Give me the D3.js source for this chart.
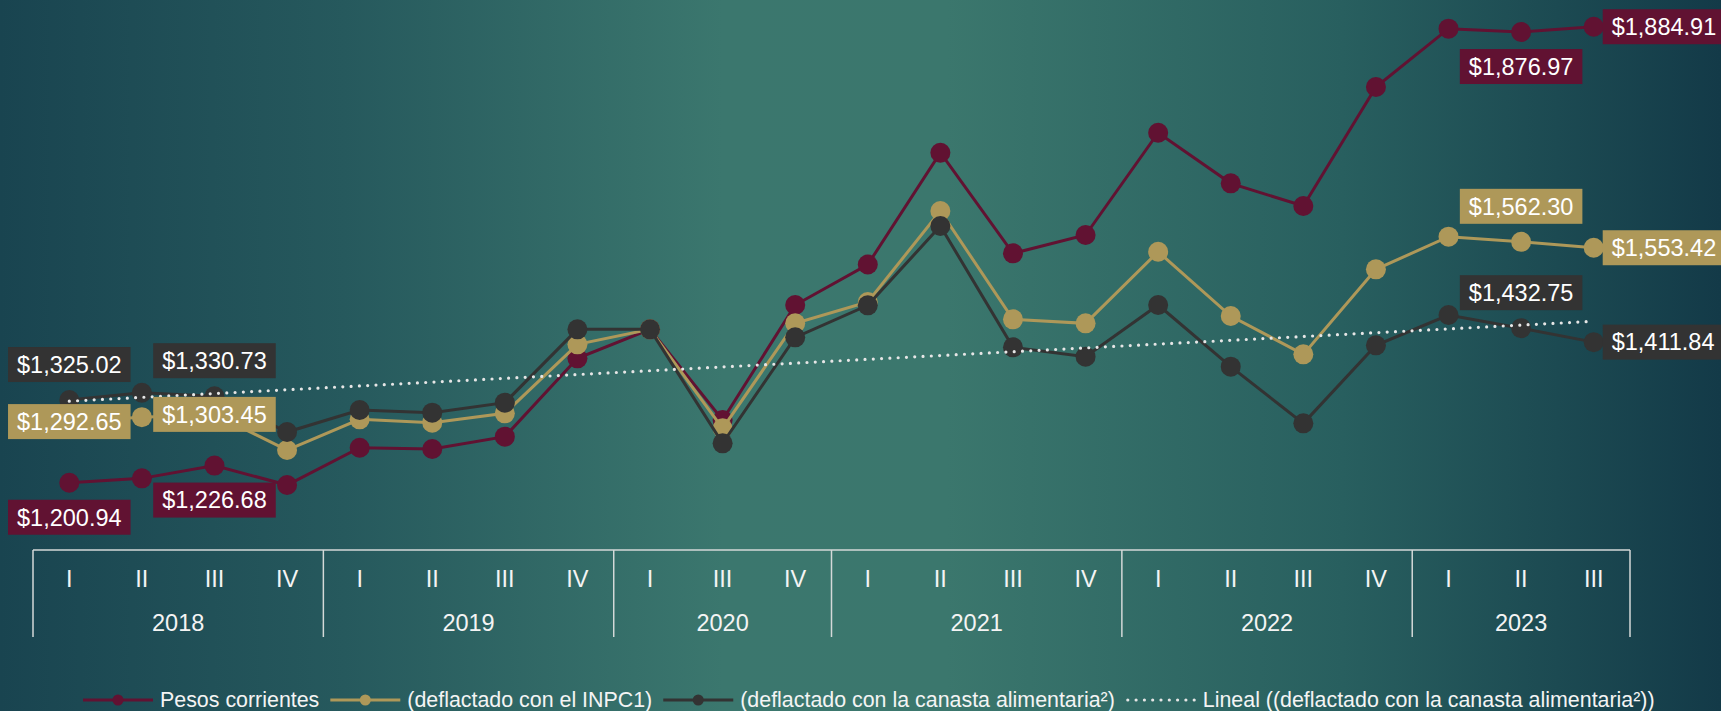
<!DOCTYPE html>
<html>
<head>
<meta charset="utf-8">
<script src="https://cdn.jsdelivr.net/npm/d3@7"></script>
<style>
  body { margin: 0; overflow: hidden; }
  text { font-family: "Liberation Sans", Arial, sans-serif; }
</style>
</head>
<body>
<script>
'use-strict';

// categories (quarter / year)
let quarters = ["I", "II", "III", "IV", "I", "II", "III", "IV", "I", "III", "IV",
  "I", "II", "III", "IV", "I", "II", "III", "IV", "I", "II", "III"];
let years = ["2018", "2018", "2018", "2018", "2019", "2019", "2019", "2019", "2020", "2020", "2020",
  "2021", "2021", "2021", "2021", "2022", "2022", "2022", "2022", "2023", "2023", "2023"];

// series values
let pesosCorrientes = [1200.94, 1207.5, 1226.68, 1197.5, 1253.4, 1251.5, 1270.0, 1387.5, 1431.0, 1295.0, 1467.5,
  1528.2, 1695.9, 1545.0, 1572.5, 1725.9, 1650.0, 1616.0, 1794.5, 1882.0, 1876.97, 1884.91];
let deflactadoInpc = [1292.65, 1299.3, 1303.45, 1250.0, 1296.0, 1291.0, 1305.0, 1408.5, 1431.0, 1282.5, 1440.0,
  1472.0, 1608.5, 1446.0, 1440.0, 1547.4, 1451.0, 1393.5, 1521.0, 1570.0, 1562.30, 1553.42];
let deflactadoCanasta = [1325.02, 1335.9, 1330.73, 1277.0, 1310.0, 1306.0, 1321.0, 1431.0, 1431.0, 1260.0, 1419.0,
  1467.0, 1586.0, 1404.0, 1390.0, 1467.5, 1375.0, 1290.0, 1407.0, 1452.5, 1432.75, 1411.84];

// legend texts
let legendNames = ["Pesos corrientes", "(deflactado con el INPC1)",
  "(deflactado con la canasta alimentaria²)", "Lineal ((deflactado con la canasta alimentaria²))"];

// which points carry a value label, and where
let labeledPoints = [0, 2, 20, 21];
let pesosLabelPos = ["below", "below", "below", "right"];
let inpcLabelPos = ["center", "center", "above", "right"];
let canastaLabelPos = ["above", "above", "above", "right"];

let width = 1721, height = 711;
let colors = { pesos: "#611232", inpc: "#ae9859", canasta: "#333333" };

let svg = d3.select("body").append("svg")
  .attr("width", width)
  .attr("height", height);

let keys = quarters.map((q, i) => years[i] + "-" + q);

let x = d3.scaleBand()
  .domain(keys)
  .range([33, 1630]);

let y = d3.scaleLinear()
  .domain([1000, 2000])
  .range([616.7, -50]);

drawBackground();
drawAxis();
drawSeries(pesosCorrientes, colors.pesos);
drawSeries(deflactadoInpc, colors.inpc);
drawSeries(deflactadoCanasta, colors.canasta);
drawTrend(deflactadoCanasta);
drawLabels(pesosCorrientes, pesosLabelPos, colors.pesos);
drawLabels(deflactadoInpc, inpcLabelPos, colors.inpc);
drawLabels(deflactadoCanasta, canastaLabelPos, colors.canasta);
drawLegend();

function cx(i) {
  return x(keys[i]) + x.bandwidth() / 2;
}

// teal background gradient
function drawBackground() {
  let grad = svg.append("defs").append("linearGradient")
    .attr("id", "bg")
    .attr("x1", "0%").attr("x2", "100%")
    .attr("y1", "0%").attr("y2", "0%");
  let stops = [[0, "#194450"], [0.2, "#26595d"], [0.42, "#3b776e"], [0.55, "#3b776d"],
    [0.78, "#285f5f"], [1, "#133a48"]];
  stops.forEach(s => grad.append("stop").attr("offset", s[0]).attr("stop-color", s[1]));
  svg.append("rect")
    .attr("width", width)
    .attr("height", height)
    .attr("fill", "url(#bg)");
}

// two-level category axis
function drawAxis() {
  let g = svg.append("g").attr("stroke", "#d4d9d8").attr("stroke-width", 1.5);
  g.append("line")
    .attr("x1", x.range()[0]).attr("x2", x.range()[1])
    .attr("y1", 550).attr("y2", 550);

  // year groups
  let groups = d3.groups(keys.map((k, i) => ({ year: years[i], i: i })), d => d.year);
  let bounds = [x.range()[0]];
  groups.forEach(gr => bounds.push(x(keys[gr[1][gr[1].length - 1].i]) + x.bandwidth()));
  g.selectAll(".sep")
    .data(bounds)
    .enter()
    .append("line")
    .attr("x1", d => d).attr("x2", d => d)
    .attr("y1", 550).attr("y2", 637);

  svg.selectAll(".qlabel")
    .data(quarters)
    .enter()
    .append("text")
    .attr("x", (d, i) => cx(i))
    .attr("y", 587)
    .attr("text-anchor", "middle")
    .attr("fill", "#f4f4f4")
    .style("font-size", "23.5px")
    .text(d => d);

  svg.selectAll(".ylabel")
    .data(groups)
    .enter()
    .append("text")
    .attr("x", d => (x(keys[d[1][0].i]) + x(keys[d[1][d[1].length - 1].i]) + x.bandwidth()) / 2)
    .attr("y", 631)
    .attr("text-anchor", "middle")
    .attr("fill", "#f4f4f4")
    .style("font-size", "23.5px")
    .text(d => d[0]);
}

function drawSeries(values, color) {
  let line = d3.line()
    .x((d, i) => cx(i))
    .y(d => y(d));
  svg.append("path")
    .datum(values)
    .attr("d", line)
    .attr("fill", "none")
    .attr("stroke", color)
    .attr("stroke-width", 3);
  svg.append("g")
    .selectAll("circle")
    .data(values)
    .enter()
    .append("circle")
    .attr("cx", (d, i) => cx(i))
    .attr("cy", d => y(d))
    .attr("r", 10)
    .attr("fill", color);
}

// least squares trend line of a series
function drawTrend(values) {
  let n = values.length;
  let mx = (n - 1) / 2, my = d3.mean(values);
  let sxy = d3.sum(values, (v, i) => (i - mx) * (v - my));
  let sxx = d3.sum(values, (v, i) => (i - mx) * (i - mx));
  let slope = sxy / sxx;
  let ends = [0, n - 1];
  svg.append("path")
    .datum(ends)
    .attr("d", d3.line().x(i => cx(i)).y(i => y(my + slope * (i - mx))))
    .attr("fill", "none")
    .attr("stroke", "#e6e6e6")
    .attr("stroke-width", 3.2)
    .attr("stroke-linecap", "round")
    .attr("stroke-dasharray", "0,8.3");
}

function drawLabels(values, positions, color) {
  let fmt = d3.format("$,.2f");
  labeledPoints.forEach((idx, k) => {
    let px = cx(idx), py = y(values[idx]);
    let g = svg.append("g");
    let t = g.append("text")
      .attr("fill", "#ffffff")
      .style("font-size", "23.5px")
      .text(fmt(values[idx]));
    let w = t.node().getComputedTextLength() + 18;
    let h = 35;
    let pos = positions[k];
    let left = px - w / 2, mid = py;
    if (pos == "above") mid = py - 35.5;
    if (pos == "below") mid = py + 34.5;
    if (pos == "right") left = px + 9;
    g.insert("rect", "text")
      .attr("x", left).attr("y", mid - h / 2)
      .attr("width", w).attr("height", h)
      .attr("fill", color);
    t.attr("x", left + 9).attr("y", mid + 8.3);
  });
}

function drawLegend() {
  let legendColors = [colors.pesos, colors.inpc, colors.canasta, "#e6e6e6"];
  let xPos = 83, ly = 700;
  legendNames.forEach((name, i) => {
    let ln = svg.append("line")
      .attr("x1", xPos).attr("x2", xPos + 70)
      .attr("y1", ly).attr("y2", ly)
      .attr("stroke", legendColors[i])
      .attr("stroke-width", 3);
    if (i == 3) {
      ln.attr("stroke-linecap", "round").attr("stroke-dasharray", "0,8.3")
        .attr("x1", xPos + 2).attr("stroke-width", 3.2);
    } else {
      svg.append("circle")
        .attr("cx", xPos + 35).attr("cy", ly)
        .attr("r", 5.5)
        .attr("fill", legendColors[i]);
    }
    let t = svg.append("text")
      .attr("x", xPos + 77)
      .attr("y", 707)
      .attr("fill", "#f4f4f4")
      .style("font-size", "21.4px")
      .text(name);
    xPos += 77 + t.node().getComputedTextLength() + 11;
  });
}
</script>
</body>
</html>
